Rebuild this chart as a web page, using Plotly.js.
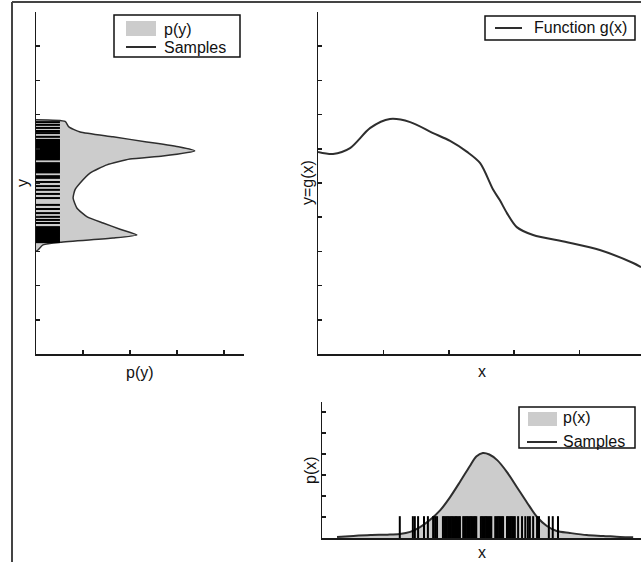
<!DOCTYPE html>
<html>
<head>
<meta charset="utf-8">
<script src="https://cdn.plot.ly/plotly-3.0.1.min.js"></script>
<style>html,body{margin:0;padding:0;background:#fff;}#chart{width:641px;height:562px;}</style>
</head>
<body>
<div id="chart"></div>
<script>
// ---- Data ----
// Function g(x)
const gX = [0, 0.23, 0.49, 0.80, 1.10, 1.41, 1.76, 2.02, 2.28, 2.48, 2.68, 2.78, 2.89, 3.04, 3.29, 3.81, 4.31, 4.82, 4.94];
const gY = [5.91, 5.85, 6.02, 6.61, 6.87, 6.78, 6.46, 6.23, 5.91, 5.58, 4.80, 4.50, 4.12, 3.71, 3.48, 3.27, 3.04, 2.66, 2.54];

// p(y) density (horizontal, left panel)
const pyY = [6.85, 6.80, 6.64, 6.49, 6.35, 6.20, 6.05, 5.94, 5.79, 5.70, 5.53, 5.29, 5.00, 4.80, 4.56, 4.27, 4.01, 3.83, 3.65, 3.48, 3.39, 3.27, 3.19, 3.04, 3.00];
const pyDensity = [0, 0.62, 0.70, 0.94, 1.64, 2.36, 3.06, 3.38, 2.70, 2.00, 1.51, 1.15, 0.94, 0.83, 0.79, 0.87, 1.09, 1.43, 1.79, 2.15, 1.64, 0.51, 0.15, 0.04, 0];

// p(x) density (bottom panel)
const pxX = [0.29, 0.54, 0.80, 1.06, 1.25, 1.41, 1.56, 1.71, 1.87, 2.02, 2.17, 2.32, 2.42, 2.52, 2.62, 2.74, 2.89, 3.04, 3.20, 3.35, 3.50, 3.65, 3.85, 4.11, 4.36, 4.62, 4.82];
const pxDensity = [0.05, 0.10, 0.14, 0.16, 0.19, 0.29, 0.52, 0.86, 1.33, 1.95, 2.67, 3.42, 3.88, 4.05, 3.98, 3.71, 3.14, 2.43, 1.67, 1.00, 0.57, 0.33, 0.24, 0.14, 0.10, 0.05, 0.03];

// Samples
const xSamples = [1.25, 1.45, 1.48, 1.53, 1.62, 1.68, 1.76, 1.79, 1.82,
  1.91, 1.93, 1.95, 1.97, 1.99, 2.01, 2.03, 2.05, 2.07, 2.09, 2.11, 2.13, 2.15, 2.17,
  2.22, 2.24, 2.26, 2.28, 2.30, 2.32, 2.34, 2.36, 2.38, 2.40, 2.42,
  2.49, 2.51, 2.53, 2.55, 2.57, 2.59, 2.61, 2.63, 2.65,
  2.71, 2.73, 2.75, 2.77, 2.79, 2.81, 2.83,
  2.89, 2.91, 2.93, 2.95, 2.97, 2.99, 3.01,
  3.06, 3.12, 3.17, 3.21, 3.24, 3.29, 3.35, 3.38, 3.53, 3.59, 3.67];
const ySamples = [6.78, 6.70, 6.61, 6.52, 6.46, 6.35,
  6.26, 6.23, 6.20, 6.17, 6.14, 6.11, 6.08, 6.05, 6.02, 5.99, 5.96, 5.93, 5.90, 5.87, 5.84, 5.81, 5.78, 5.75, 5.72, 5.69,
  5.58, 5.55, 5.52, 5.49, 5.46, 5.43, 5.40, 5.37, 5.34, 5.31,
  5.20, 5.15, 5.03, 4.91, 4.80, 4.68, 4.56, 4.36, 4.24, 4.12, 4.01, 3.92, 3.83,
  3.71, 3.68, 3.65, 3.62, 3.59, 3.56, 3.53, 3.50, 3.47, 3.44, 3.41, 3.38, 3.35, 3.32, 3.29, 3.27];

// Texts
const legendLabelsY = ["p(y)", "Samples"];
const legendLabelsG = ["Function g(x)"];
const legendLabelsX = ["p(x)", "Samples"];
const axisTitles = {py: "p(y)", y: "y", x: "x", gy: "y=g(x)", px: "p(x)"};

// ---- Styling / layout helpers ----
const W = 641, H = 562;
const PX = v => v / W;            // pixel -> paper x
const PY = v => (H - v) / H;      // pixel -> paper y
const FONT = 'Liberation Sans, Arial, sans-serif';
const LINE = '#2e2e2e';
const FILL = '#cccccc';
const AX = '#1a1a1a';
const RUG_LEN_Y = 0.51;   // horizontal rug length (p(y) units)
const RUG_LEN_X = 1.04;   // vertical rug height (p(x) units)

function rugH(vals) {
  const x = [], y = [];
  vals.forEach(v => { x.push(0, RUG_LEN_Y, null); y.push(v, v, null); });
  return {x, y};
}
function rugV(vals) {
  const x = [], y = [];
  vals.forEach(v => { x.push(v, v, null); y.push(0, RUG_LEN_X, null); });
  return {x, y};
}

const ry = rugH(ySamples);
const rx = rugV(xSamples);

const traces = [
  {x: pyDensity, y: pyY, type: 'scatter', mode: 'lines', fill: 'tozerox', fillcolor: FILL,
   line: {color: LINE, width: 1.5, shape: 'spline', smoothing: 0.5}, xaxis: 'x', yaxis: 'y', name: 'p(y)', showlegend: false, hoverinfo: 'skip'},
  {x: ry.x, y: ry.y, type: 'scatter', mode: 'lines', line: {color: '#000', width: 2},
   xaxis: 'x', yaxis: 'y', name: 'Samples', showlegend: false, hoverinfo: 'skip'},
  {x: gX, y: gY, type: 'scatter', mode: 'lines', line: {color: LINE, width: 2, shape: 'spline', smoothing: 0.8},
   xaxis: 'x2', yaxis: 'y2', name: 'Function g(x)', showlegend: false, hoverinfo: 'skip'},
  {x: pxX, y: pxDensity, type: 'scatter', mode: 'lines', fill: 'tozeroy', fillcolor: FILL,
   line: {color: LINE, width: 2, shape: 'spline', smoothing: 0.8}, xaxis: 'x3', yaxis: 'y3', name: 'p(x)', showlegend: false, hoverinfo: 'skip'},
  {x: rx.x, y: rx.y, type: 'scatter', mode: 'lines', line: {color: '#000', width: 2},
   xaxis: 'x3', yaxis: 'y3', name: 'Samples', showlegend: false, hoverinfo: 'skip'}
];

function axis(extra) {
  return Object.assign({
    showgrid: false, zeroline: false, showline: true, linecolor: AX, linewidth: 1.5,
    ticks: 'inside', ticklen: 4, tickwidth: 1.5, tickcolor: AX, showticklabels: false,
    tick0: 0, dtick: 1, fixedrange: true
  }, extra);
}

const shapes = [
  // outer frame lines
  {type: 'line', xref: 'paper', yref: 'paper', x0: PX(12), x1: PX(641), y0: PY(2), y1: PY(2), line: {color: '#444', width: 2}},
  {type: 'line', xref: 'paper', yref: 'paper', x0: PX(12), x1: PX(12), y0: PY(2), y1: PY(562), line: {color: '#444', width: 2}},
  // legend 1 (p(y))
  {type: 'rect', xref: 'paper', yref: 'paper', x0: PX(114), x1: PX(240), y0: PY(15), y1: PY(57), fillcolor: '#fff', line: {color: '#111', width: 1.5}},
  {type: 'rect', xref: 'paper', yref: 'paper', x0: PX(126), x1: PX(156), y0: PY(21), y1: PY(36), fillcolor: FILL, line: {width: 0}},
  {type: 'line', xref: 'paper', yref: 'paper', x0: PX(126), x1: PX(156), y0: PY(47), y1: PY(47), line: {color: LINE, width: 2}},
  // legend 2 (g(x))
  {type: 'rect', xref: 'paper', yref: 'paper', x0: PX(485), x1: PX(635), y0: PY(16), y1: PY(40), fillcolor: '#fff', line: {color: '#111', width: 1.5}},
  {type: 'line', xref: 'paper', yref: 'paper', x0: PX(495), x1: PX(522), y0: PY(28), y1: PY(28), line: {color: LINE, width: 2}},
  // legend 3 (p(x))
  {type: 'rect', xref: 'paper', yref: 'paper', x0: PX(519), x1: PX(635), y0: PY(407), y1: PY(448), fillcolor: '#fff', line: {color: '#111', width: 1.5}},
  {type: 'rect', xref: 'paper', yref: 'paper', x0: PX(528), x1: PX(557), y0: PY(412), y1: PY(426), fillcolor: FILL, line: {width: 0}},
  {type: 'line', xref: 'paper', yref: 'paper', x0: PX(527), x1: PX(557), y0: PY(442), y1: PY(442), line: {color: LINE, width: 2}}
];

function ann(text, x, y, opts) {
  return Object.assign({text, xref: 'paper', yref: 'paper', x: PX(x), y: PY(y), showarrow: false,
    xanchor: 'center', yanchor: 'middle', font: {family: FONT, size: 16, color: '#111'}}, opts || {});
}

const annotations = [
  ann(axisTitles.py, 140, 372),
  ann(axisTitles.y, 22, 183, {textangle: -90}),
  ann(axisTitles.x, 482, 371),
  ann(axisTitles.gy, 307, 183, {textangle: -90}),
  ann(axisTitles.px, 310, 470, {textangle: -90}),
  ann(axisTitles.x, 482, 552),
  ann(legendLabelsY[0], 162, 29, {xanchor: 'left'}),
  ann(legendLabelsY[1], 162, 48, {xanchor: 'left'}),
  ann(legendLabelsG[0], 532, 28, {xanchor: 'left'}),
  ann(legendLabelsX[0], 561, 418, {xanchor: 'left'}),
  ann(legendLabelsX[1], 561, 441, {xanchor: 'left'})
];

const layout = {
  width: W, height: H,
  margin: {l: 0, r: 0, t: 0, b: 0},
  paper_bgcolor: '#fff', plot_bgcolor: 'rgba(0,0,0,0)',
  showlegend: false,
  font: {family: FONT, size: 16, color: '#111'},
  xaxis: axis({domain: [PX(36), PX(244)], range: [0, 4.43], anchor: 'y'}),
  yaxis: axis({domain: [PY(354), PY(12)], range: [0, 10], anchor: 'x'}),
  xaxis2: axis({domain: [PX(318), 1], range: [0, 4.94], anchor: 'y2'}),
  yaxis2: axis({domain: [PY(354), PY(12)], range: [0, 10], anchor: 'x2'}),
  xaxis3: axis({domain: [PX(322), 1], range: [0.06, 4.94], anchor: 'y3', ticks: ''}),
  yaxis3: axis({domain: [PY(538), PY(402)], range: [0, 6.48], anchor: 'x3'}),
  shapes, annotations
};

Plotly.newPlot('chart', traces, layout, {displayModeBar: false, staticPlot: true});
</script>
</body>
</html>
